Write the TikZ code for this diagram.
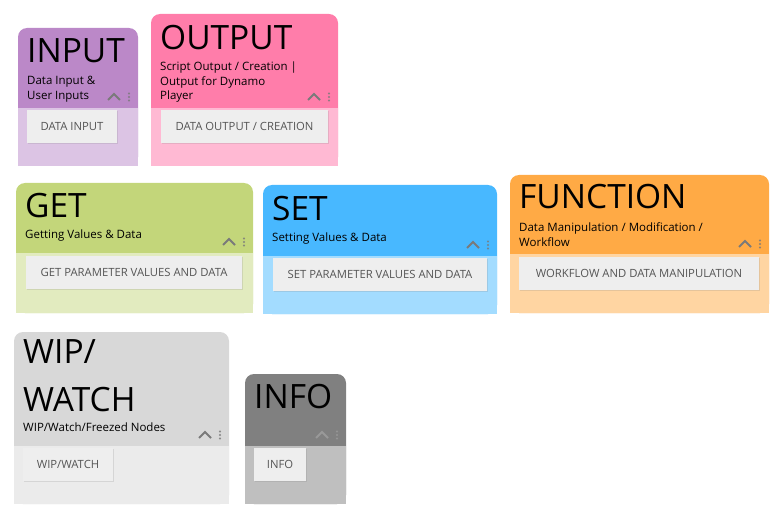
\documentclass[tikz,border=0pt]{standalone}
\usepackage{fontspec}
\setmainfont{Open Sans}
\usetikzlibrary{shadows}
\definecolor{inputhead}{HTML}{BB88C8}
\definecolor{inputbody}{HTML}{DCC4E4}
\definecolor{outputhead}{HTML}{FF7DAA}
\definecolor{outputbody}{HTML}{FFB9D3}
\definecolor{gethead}{HTML}{C3D67A}
\definecolor{getbody}{HTML}{E2EBBF}
\definecolor{sethead}{HTML}{48B8FF}
\definecolor{setbody}{HTML}{A3DCFF}
\definecolor{functionhead}{HTML}{FFAA45}
\definecolor{functionbody}{HTML}{FFD5A2}
\definecolor{wiphead}{HTML}{D8D8D8}
\definecolor{wipbody}{HTML}{EBEBEB}
\definecolor{infohead}{HTML}{808080}
\definecolor{infobody}{HTML}{BFBFBF}
\definecolor{entryfill}{HTML}{EEEEEE}
\definecolor{entrytext}{HTML}{555555}
\definecolor{caretgray}{HTML}{7A7A7A}
\begin{document}
\begin{tikzpicture}[
    x=1pt, y=-1pt,
    title/.style={
      anchor=base west,
      inner sep=0pt,
      font=\fontsize{33.5}{48}\selectfont
    },
    subtitle/.style={
      anchor=base west,
      inner sep=0pt,
      font=\fontsize{11.5}{14.5}\selectfont
    },
    entry/.style={
      fill=entryfill,
      text=entrytext,
      minimum height=33pt,
      inner sep=0pt,
      font=\fontsize{11.3}{13}\selectfont,
      drop shadow={opacity=0.2, shadow xshift=0.8pt, shadow yshift=-1pt}
    },
    caret/.style={
      draw=caretgray,
      line width=1.8pt
    },
    dots/.style={
      draw=caretgray,
      line width=0.4pt
    }
  ]
    \useasboundingbox (0,0) rectangle (780,516);

    % group backgrounds
    \fill[inputhead, rounded corners=9pt] (18,28) rectangle (138,166);
    \fill[inputbody] (18,108) rectangle (138,166);
    \fill[outputhead, rounded corners=9pt] (151,14) rectangle (338,166);
    \fill[outputbody] (151,108) rectangle (338,166);
    \fill[gethead, rounded corners=9pt] (16,183) rectangle (253,313);
    \fill[getbody] (16,253) rectangle (253,313);
    \fill[sethead, rounded corners=9pt] (263,185) rectangle (497,314);
    \fill[setbody] (263,256) rectangle (497,314);
    \fill[functionhead, rounded corners=9pt] (510,175) rectangle (769,313);
    \fill[functionbody] (510,254) rectangle (769,313);
    \fill[wiphead, rounded corners=9pt] (14,332) rectangle (229,504);
    \fill[wipbody] (14,446) rectangle (229,504);
    \fill[infohead, rounded corners=9pt] (245,374) rectangle (346,504);
    \fill[infobody] (245,446) rectangle (346,504);

    % collapse and menu icons
    \foreach \cx/\cy/\col in {114/97/caretgray, 314/97/caretgray, 229/242/caretgray,
                              473/245/caretgray, 745/244/caretgray, 205/435/caretgray,
                              322/435/infohead!80!white} {
      \draw[caret, draw=\col] (\cx-6,\cy+3) -- (\cx,\cy-3) -- (\cx+6,\cy+3);
      \foreach \dy in {-3.5,0,3.5}
        \draw[dots, draw=\col] (\cx+15,\cy+\dy) circle (0.9pt);
    }

    % titles
    \node[title] (inputtitle) at (27,63) {INPUT};
    \node[title] (outputtitle) at (160,50) {OUTPUT};
    \node[title] (gettitle) at (25,218) {GET};
    \node[title] (settitle) at (272,221) {SET};
    \node[title] (functiontitle) at (519,209) {FUNCTION};
    \node[title] (wiptitle) at (23,363) {WIP/};
    \node[title] (watchtitle) at (23,411) {WATCH};
    \node[title] (infotitle) at (254,408) {INFO};

    % descriptions
    \node[subtitle] (inputdesc) at (27,85)
      {\begin{tabular}[t]{@{}l@{}}Data Input \&\\User Inputs\end{tabular}};
    \node[subtitle] (outputdesc) at (160,71)
      {\begin{tabular}[t]{@{}l@{}}Script Output / Creation |\\Output for Dynamo\\Player\end{tabular}};
    \node[subtitle] (getdesc) at (25,239) {Getting Values \& Data};
    \node[subtitle] (setdesc) at (272,242) {Setting Values \& Data};
    \node[subtitle] (functiondesc) at (519,232)
      {\begin{tabular}[t]{@{}l@{}}Data Manipulation / Modification /\\Workflow\end{tabular}};
    \node[subtitle] (wipdesc) at (23,431) {WIP/Watch/Freezed Nodes};

    % group entries
    \node[entry, minimum width=90pt] (datainput) at (72,126.5) {DATA INPUT};
    \node[entry, minimum width=167pt] (dataoutput) at (244.5,126.5) {DATA OUTPUT / CREATION};
    \node[entry, minimum width=216pt] (getvalues) at (134,272.5) {GET PARAMETER VALUES AND DATA};
    \node[entry, minimum width=214pt] (setvalues) at (380,274.5) {SET PARAMETER VALUES AND DATA};
    \node[entry, minimum width=240pt] (workflow) at (639,273.5) {WORKFLOW AND DATA MANIPULATION};
    \node[entry, minimum width=90pt] (wipwatch) at (68,464.5) {WIP/WATCH};
    \node[entry, minimum width=52pt] (info) at (280,464.5) {INFO};
  \end{tikzpicture}
\end{document}
